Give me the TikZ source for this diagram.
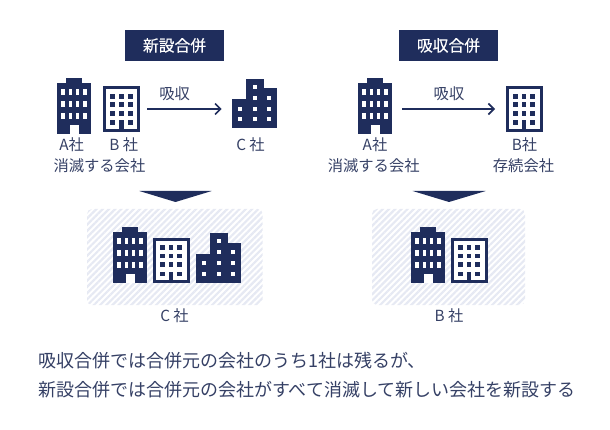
\documentclass[tikz,border=0pt]{standalone}
\usepackage{fontspec}
\setmainfont{Noto Sans CJK JP}
\newfontfamily\titlefont[FakeBold=0.25]{Noto Sans CJK JP}
\usetikzlibrary{arrows.meta,patterns.meta}
\definecolor{navy}{HTML}{1F2D5C}
\definecolor{inktext}{HTML}{354065}
\definecolor{stripe}{HTML}{E6E9F3}
\tikzset{
  titlebox/.style={fill=navy,text=white,font=\titlefont\fontsize{15.8}{18}\selectfont,minimum width=99pt,minimum height=31pt,inner sep=0pt},
  caption/.style={text=inktext,font=\fontsize{15.3}{18}\selectfont,inner sep=0pt},
  note/.style={text=inktext,font=\fontsize{18}{22}\selectfont,inner sep=0pt,anchor=west},
  flowarrow/.style={navy,line width=1.6pt,-{Straight Barb[length=5.5pt,width=11pt,line width=1.6pt]}},
  panel/.style={pattern={Lines[angle=45,distance=4.4pt,line width=2.2pt]},pattern color=stripe,rounded corners=5pt},
  pics/officedark/.style={code={
    \fill[navy] (9,0) rectangle (25,6);
    \fill[navy] (0,5) rectangle (34,56);
    \foreach \wy in {11,23,34.7} \foreach \wx in {4.3,11.7,18.7,26} \fill[white] (\wx,\wy) rectangle +(3.7,6.5);
    \fill[white] (12.5,47) rectangle (21.5,56);
  }},
  pics/officeline/.style={code={
    \draw[navy,fill=white,line width=3pt] (1.5,1.5) rectangle (35.2,44.2);
    \foreach \wy in {7.7,16,24.7,34} \foreach \wx in {6.7,15.5,24.4} \fill[navy] (\wx,\wy) rectangle +(4.8,4.7);
    \fill[navy] (15.5,34) rectangle (20.3,45);
  }},
  pics/officeblock/.style={code={
    \fill[navy] (0,20.3) rectangle (14,49.6);
    \fill[navy] (13.7,0) rectangle (31.3,49.6);
    \fill[navy] (31,9.3) rectangle (45,49.6);
    \foreach \wy in {6,17,28,38.3} \fill[white] (20.7,\wy) rectangle +(4,4);
    \foreach \wy in {17,28,38.3} \fill[white] (35,\wy) rectangle +(4,4);
    \foreach \wy in {28,38.3} \fill[white] (5.7,\wy) rectangle +(4,4);
  }},
}
\begin{document}
\begin{tikzpicture}[x=1pt,y=-1pt]
\useasboundingbox (0,0) rectangle (610,430);
\node[titlebox] (mergeTitle) at (174.5,45.5) {新設合併};
\node[titlebox] (absorbTitle) at (448.5,45.5) {吸収合併};
\pic (leftA) at (57,78) {officedark};
\pic (leftB) at (103.3,86.3) {officeline};
\pic (leftC) at (232.3,78.7) {officeblock};
\pic (rightA) at (358,78) {officedark};
\pic (rightB) at (506,86.3) {officeline};
\coordinate (leftFrom) at (147,109);
\coordinate (leftTo) at (221.7,109);
\coordinate (rightFrom) at (402,109);
\coordinate (rightTo) at (495,109);
\draw[flowarrow] (leftFrom) -- (leftTo);
\draw[flowarrow] (rightFrom) -- (rightTo);
\node[caption] (leftLabel) at (174.7,94) {吸収};
\node[caption] (rightLabel) at (449,94) {吸収};
\node[caption] (nameLA) at (71.7,145) {A社};
\node[caption] (nameLB) at (123.7,145) {B 社};
\node[caption] (nameLC) at (250.5,145) {C 社};
\node[caption] (goneL) at (99.4,165.7) {消滅する会社};
\node[caption] (nameRA) at (375,145) {A社};
\node[caption] (nameRB) at (524.5,145) {B社};
\node[caption] (goneR) at (373.7,165.7) {消滅する会社};
\node[caption] (keepR) at (523.5,165.7) {存続会社};
\fill[navy] (139.3,191) -- (211.7,191) -- (175.5,202) -- cycle;
\fill[navy] (412.7,191) -- (485.7,191) -- (449,202) -- cycle;
\path[panel] (87,209) rectangle (262.7,305);
\path[panel] (372,209) rectangle (525,305);
\pic (resultA) at (113,227) {officedark};
\pic (resultB) at (153,237.7) {officeline};
\pic (resultC) at (196.3,233.5) {officeblock};
\pic (keptA) at (411,227) {officedark};
\pic (keptB) at (451,237.7) {officeline};
\node[caption] (resultName) at (174.5,316) {C 社};
\node[caption] (keptName) at (449,316) {B 社};
\node[note] (noteOne) at (38,361) {吸収合併では合併元の会社のうち1社は残るが、};
\node[note] (noteTwo) at (38,390) {新設合併では合併元の会社がすべて消滅して新しい会社を新設する};
\end{tikzpicture}
\end{document}
